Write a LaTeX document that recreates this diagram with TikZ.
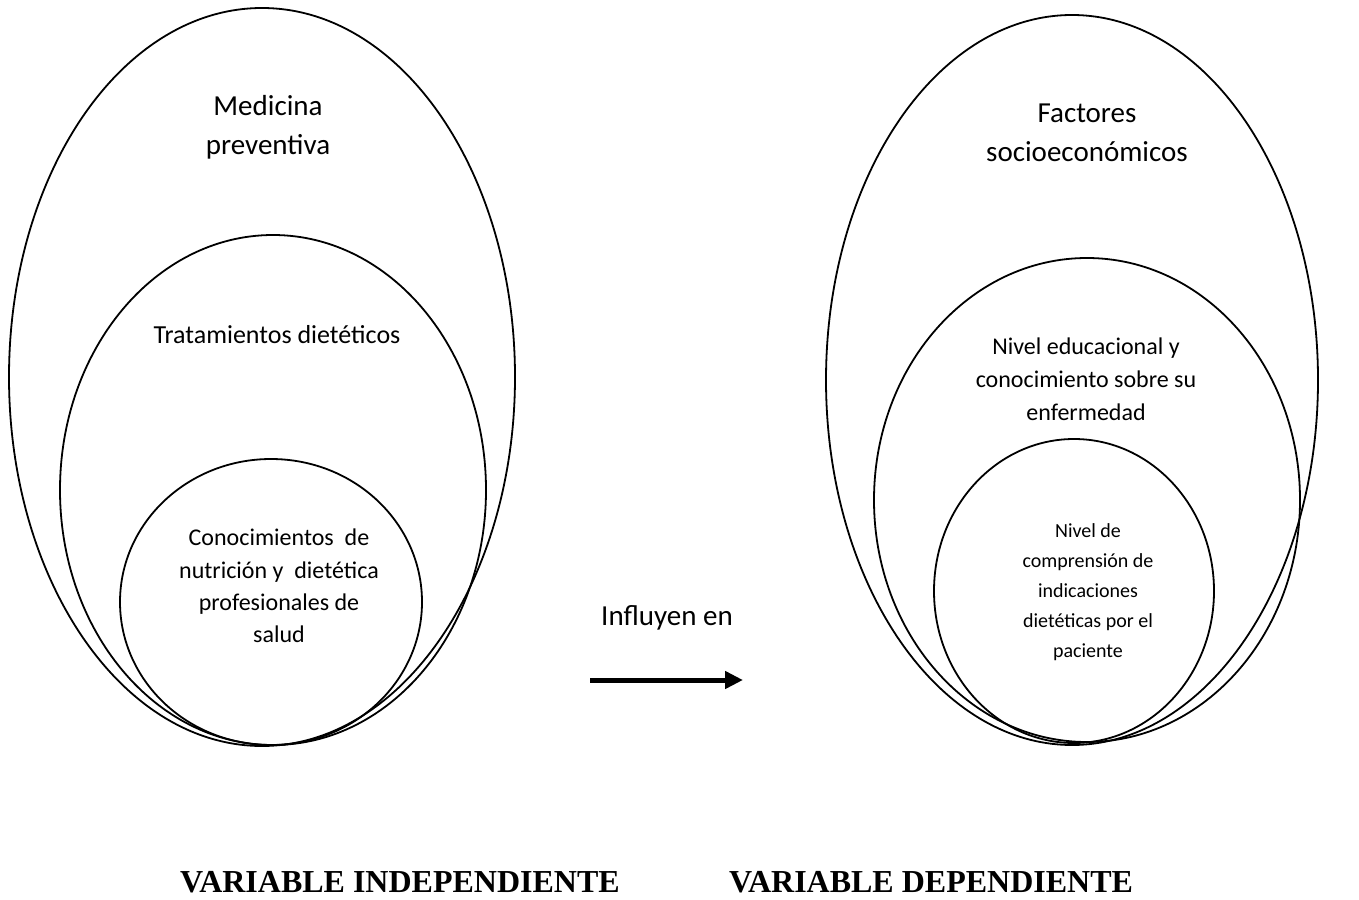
\documentclass[tikz,border=0pt]{standalone}
\usepackage{fontspec}
\setmainfont{Carlito}
\newfontfamily\titlefont{Liberation Serif}
\usetikzlibrary{positioning,shapes.geometric,arrows.meta}

\tikzset{
  oval/.style={draw, ellipse, line width=1.8pt, inner sep=0pt},
  label29/.style={align=center, font=\fontsize{29}{39}\selectfont},
  varlabel/.style={anchor=base, font=\titlefont\bfseries\fontsize{32}{38}\selectfont}
}

\begin{document}
\begin{tikzpicture}[x=1pt, y=-1pt]

    \useasboundingbox (0,0) rectangle (1359,899);

    % variable independiente
    \node[oval, minimum width=506pt, minimum height=738pt] (medL) at (262,377) {};
    \node[oval, minimum width=426pt, minimum height=510pt] (tratL) at (273,490) {};
    \node[oval, minimum width=302pt, minimum height=286pt] (conL) at (271,602) {};

    \node[label29] (medtxt) at (268,127) {Medicina\\preventiva};
    \node[anchor=base, font=\fontsize{26}{32}\selectfont] (trattxt) at (277,343) {Tratamientos dietéticos};
    \node[align=center, font=\fontsize{24}{32.3}\selectfont] (contxt) at (279,586)
        {Conocimientos\ \ de\\nutrición y\ \ dietética\\profesionales de\\salud};

    % variable dependiente
    \node[oval, minimum width=492pt, minimum height=730pt] (facR) at (1072,380) {};
    \node[oval, minimum width=426pt, minimum height=484pt] (nivR) at (1087,500) {};
    \node[oval, minimum width=280pt, minimum height=304pt] (comR) at (1074,591) {};

    \node[label29] (factxt) at (1087,133) {Factores\\socioeconómicos};
    \node[align=center, font=\fontsize{24}{33}\selectfont] (nivtxt) at (1086,379)
        {Nivel educacional y\\conocimiento sobre su\\enfermedad};
    \node[align=center, font=\fontsize{20}{30}\selectfont] (comtxt) at (1088,592)
        {Nivel de\\comprensión de\\indicaciones\\dietéticas por el\\paciente};

    % flecha
    \node[anchor=base, font=\fontsize{29}{35}\selectfont] (inftxt) at (667,625) {Influyen en};
    \coordinate (arrS) at (590,680);
    \coordinate (arrE) at (743,680);
    \draw[line width=5pt, -{Triangle[length=18pt, width=17pt]}] (arrS) -- (arrE);

    \node[varlabel] (indtxt) at (400,892) {VARIABLE INDEPENDIENTE};
    \node[varlabel] (deptxt) at (931,892) {VARIABLE DEPENDIENTE};

\end{tikzpicture}
\end{document}
